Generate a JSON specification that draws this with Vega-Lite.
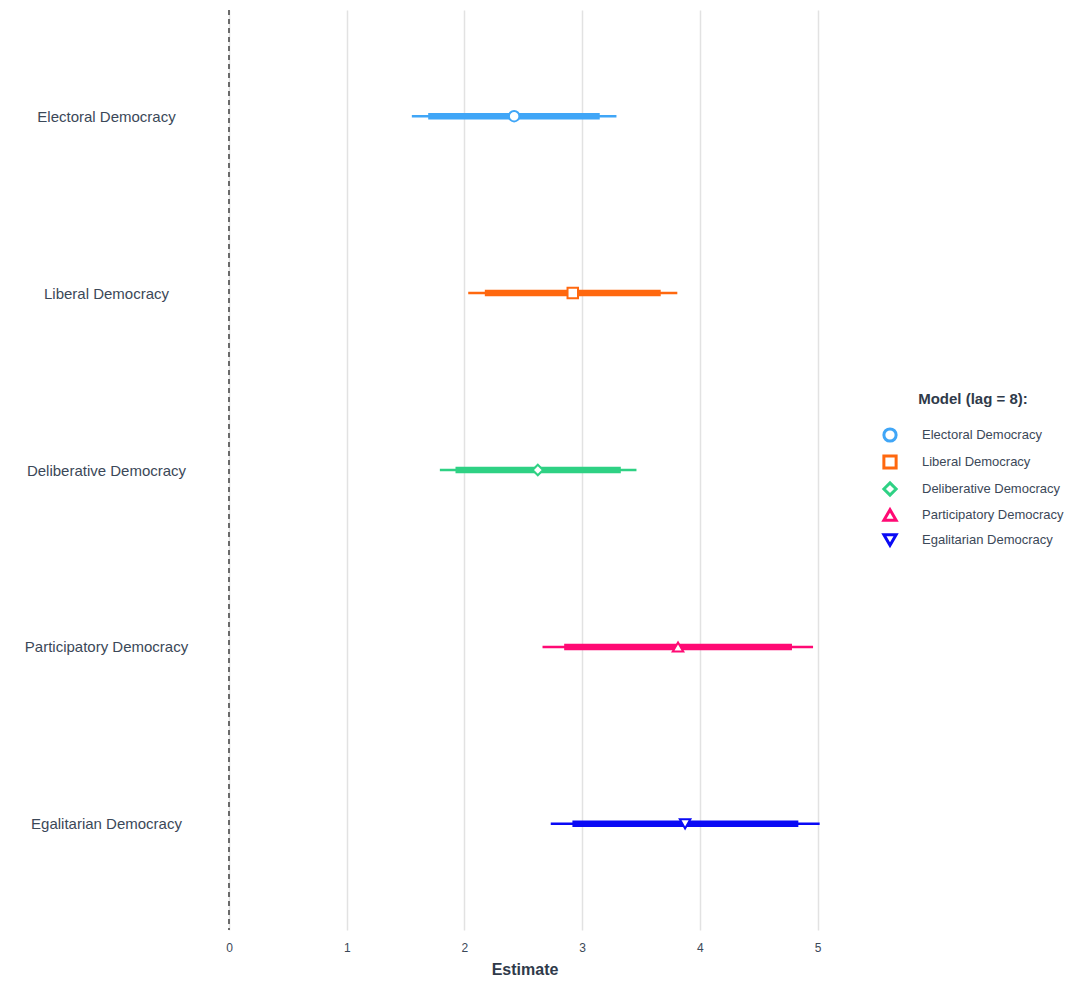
{
  "$schema": "https://vega.github.io/schema/vega-lite/v6.json",
  "description": "Model estimates with inner (thick) and outer (thin) intervals",
  "width": 591,
  "height": 920,
  "padding": {"left": 5, "top": 9, "right": 5, "bottom": 5},
  "background": "white",
  "config": {
    "font": "Liberation Sans",
    "view": {"stroke": null}
  },
  "data": {
    "values": [
      {"model": "Electoral Democracy", "lo": 1.553, "lo90": 1.692, "est": 2.422, "hi90": 3.149, "hi": 3.291},
      {"model": "Liberal Democracy", "lo": 2.032, "lo90": 2.173, "est": 2.92, "hi90": 3.667, "hi": 3.808},
      {"model": "Deliberative Democracy", "lo": 1.791, "lo90": 1.924, "est": 2.623, "hi90": 3.328, "hi": 3.461},
      {"model": "Participatory Democracy", "lo": 2.663, "lo90": 2.847, "est": 3.814, "hi90": 4.782, "hi": 4.961},
      {"model": "Egalitarian Democracy", "lo": 2.733, "lo90": 2.917, "est": 3.874, "hi90": 4.836, "hi": 5.017}
    ]
  },
  "encoding": {
    "y": {
      "field": "model",
      "type": "nominal",
      "sort": ["Electoral Democracy", "Liberal Democracy", "Deliberative Democracy", "Participatory Democracy", "Egalitarian Democracy"],
      "scale": {"type": "point", "padding": 0.6},
      "axis": {
        "title": null,
        "domain": false,
        "ticks": false,
        "grid": false,
        "labelAlign": "center",
        "labelPadding": 123,
        "labelFontSize": 15,
        "labelColor": "#3b4858",
        "minExtent": 224,
        "maxExtent": 224
      }
    },
    "color": {
      "field": "model",
      "type": "nominal",
      "scale": {
        "domain": ["Electoral Democracy", "Liberal Democracy", "Deliberative Democracy", "Participatory Democracy", "Egalitarian Democracy"],
        "range": ["#40a6f7", "#ff680f", "#2fd184", "#ff0a74", "#0a0af5"]
      },
      "legend": {
        "title": "Model (lag = 8):",
        "orient": "none",
        "legendX": 647,
        "legendY": 376,
        "titleFontSize": 15,
        "titleFontWeight": "bold",
        "titleColor": "#2f3a4a",
        "titleAnchor": "middle",
        "titlePadding": 20,
        "labelFontSize": 13,
        "labelColor": "#3b4858",
        "labelOffset": 24,
        "symbolSize": 150,
        "symbolStrokeWidth": 3,
        "symbolFillColor": "white",
        "rowPadding": 1,
        "padding": 6
      }
    }
  },
  "layer": [
    {
      "mark": {"type": "rule", "strokeDash": [5, 4], "color": "#6b6b6b", "strokeWidth": 1.3},
      "encoding": {
        "x": {"datum": 0, "type": "quantitative"},
        "y": null,
        "color": null
      }
    },
    {
      "mark": {"type": "rule", "strokeWidth": 2.5},
      "encoding": {
        "x": {
          "field": "lo",
          "type": "quantitative",
          "scale": {"domain": [0, 5.02], "nice": false, "zero": false},
          "axis": {
            "title": "Estimate",
            "titleFontSize": 16,
            "titleFontWeight": "bold",
            "titleColor": "#2f3a4a",
            "titlePadding": 8,
            "values": [0, 1, 2, 3, 4, 5],
            "format": "d",
            "domain": false,
            "ticks": false,
            "grid": true,
            "gridColor": "#e2e2e2",
            "gridWidth": 1.5,
            "labelFlush": false,
            "labelFontSize": 12,
            "labelColor": "#3b4858",
            "labelPadding": 12
          }
        },
        "x2": {"field": "hi"}
      }
    },
    {
      "mark": {"type": "rule", "strokeWidth": 6.5},
      "encoding": {
        "x": {"field": "lo90", "type": "quantitative"},
        "x2": {"field": "hi90"}
      }
    },
    {
      "mark": {"type": "point", "filled": false, "fill": "white", "fillOpacity": 1, "size": 110, "strokeWidth": 2, "opacity": 1},
      "encoding": {
        "x": {"field": "est", "type": "quantitative"},
        "shape": {
          "field": "model",
          "type": "nominal",
          "scale": {
            "domain": ["Electoral Democracy", "Liberal Democracy", "Deliberative Democracy", "Participatory Democracy", "Egalitarian Democracy"],
            "range": ["circle", "square", "diamond", "triangle-up", "triangle-down"]
          }
        }
      }
    }
  ]
}
